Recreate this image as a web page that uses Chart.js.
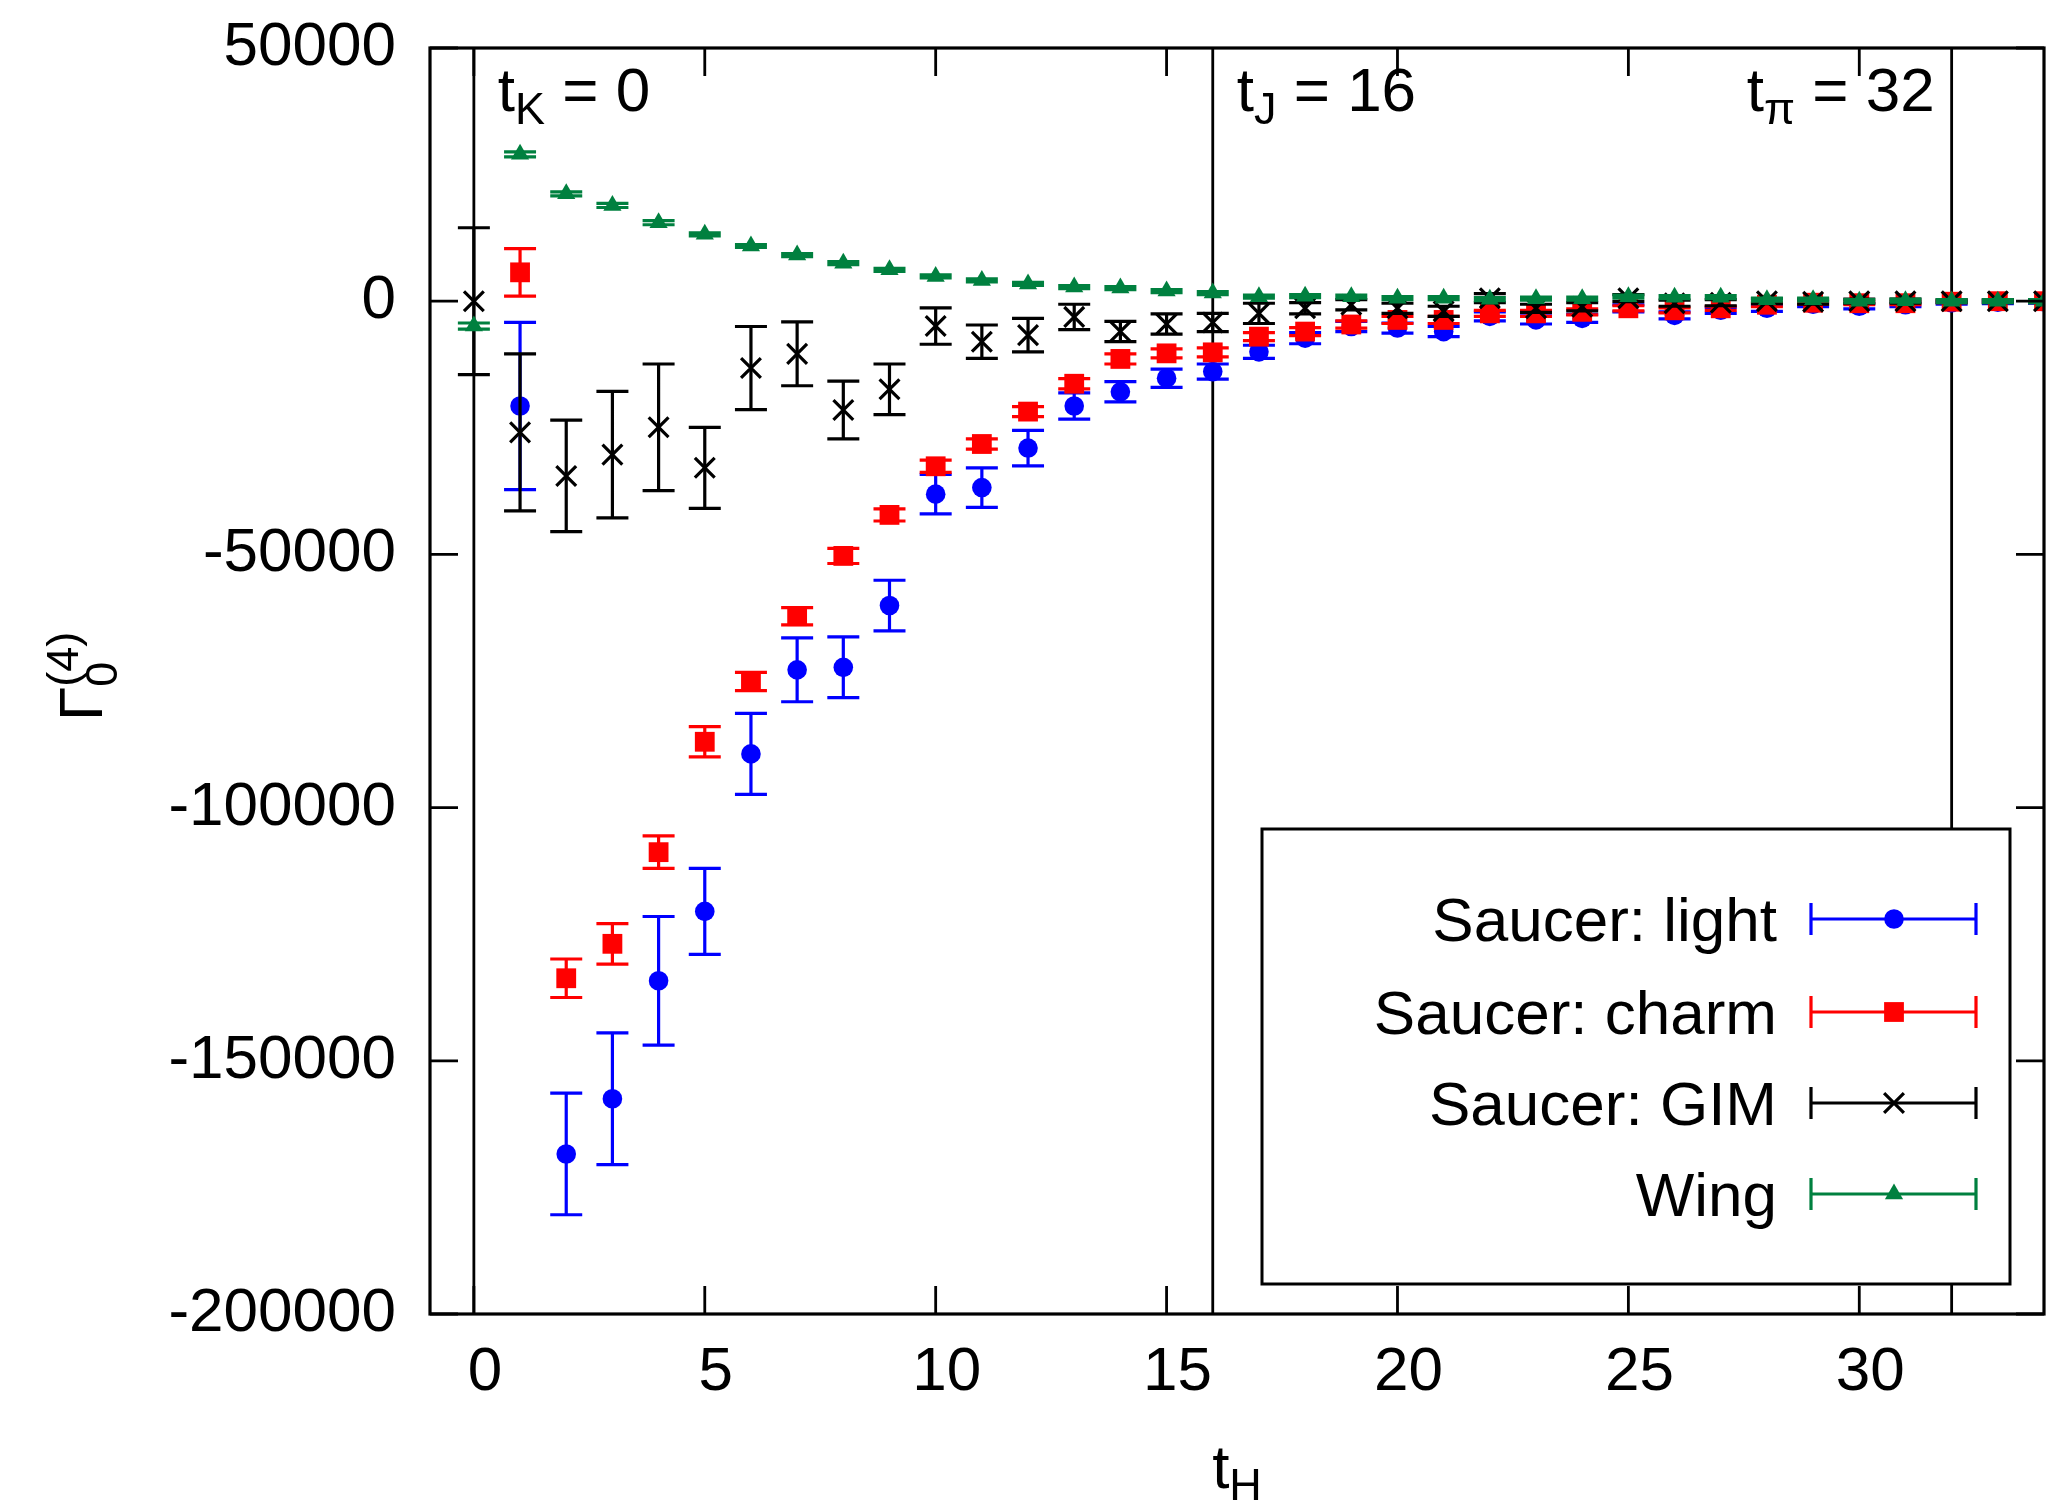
<!DOCTYPE html>
<html>
<head>
<meta charset="utf-8">
<script src="https://cdn.jsdelivr.net/npm/chart.js@4.4.1/dist/chart.umd.min.js"></script>
<style>
  body { margin: 0; background: #fff; }
  canvas { display: block; }
</style>
</head>
<body>
<canvas id="myChart" width="2054" height="1506"></canvas>
<script>
// t_H values (insertion time)
const tH = [0, 1, 2, 3, 4, 5, 6, 7, 8, 9, 10, 11, 12, 13, 14, 15, 16, 17, 18, 19, 20,
  21, 22, 23, 24, 25, 26, 27, 28, 29, 30, 31, 32, 33, 34];

// Saucer: light
const light = [null, -20700, -168400, -157500, -134200, -120500, -89400, -72800, -72300, -60100,
  -38100, -36800, -29000, -20700, -17900, -15200, -13900, -10000, -7300, -5000,
  -5300, -6000, -3000, -3700, -3400, -1400, -2800, -1800, -1400, -600,
  -1000, -700, -300, -200, -100];
const lightErr = [null, 16500, 12000, 13000, 12700, 8500, 8000, 6300, 6000, 5000,
  3900, 3900, 3500, 2600, 2000, 1800, 1500, 1300, 1100, 1000,
  1000, 1000, 900, 800, 800, 700, 700, 600, 600, 500,
  500, 400, 300, 300, 300];

// Saucer: charm
const charm = [null, 5700, -133700, -126900, -108800, -87000, -75100, -62200, -50300, -42200,
  -32600, -28200, -21800, -16300, -11400, -10300, -10100, -7000, -6000, -4600,
  -3700, -3700, -2400, -2400, -2100, -1400, -1800, -1400, -700, -300,
  -400, -400, -100, 0, 0];
const charmErr = [null, 4700, 3800, 4000, 3200, 3000, 1800, 1700, 1500, 1200,
  1200, 1000, 1000, 1000, 1000, 900, 900, 800, 800, 700,
  700, 700, 600, 600, 600, 500, 500, 400, 400, 300,
  300, 300, 200, 200, 200];

// Saucer: GIM
const gim = [0, -25900, -34500, -30300, -24900, -32900, -13200, -10400, -21500, -17400,
  -4900, -8000, -6700, -3100, -6000, -4500, -4200, -2400, -1400, -700,
  -1400, -2000, 600, -1400, -1100, 600, -400, -300, 0, -100,
  0, 0, 0, 0, 0];
const gimErr = [14500, 15500, 11000, 12500, 12500, 8000, 8200, 6300, 5700, 5000,
  3600, 3300, 3300, 2500, 2000, 2000, 1800, 2000, 1100, 1000,
  1000, 1000, 900, 800, 800, 700, 600, 600, 500, 500,
  400, 400, 300, 300, 300];

// Wing
const wing = [-4900, 29000, 21200, 18900, 15500, 13200, 10900, 9100, 7500, 6200,
  4900, 4100, 3400, 2800, 2600, 2000, 1600, 900, 1000, 900,
  600, 600, 400, 500, 500, 900, 800, 800, 300, 300,
  0, 100, 0, 0, 0];
const wingErr = [600, 500, 400, 400, 400, 300, 300, 300, 300, 300,
  300, 300, 300, 300, 300, 300, 300, 300, 300, 300,
  300, 300, 300, 300, 300, 300, 300, 300, 300, 300,
  300, 300, 300, 300, 300];

const seriesNames = ["Saucer: light", "Saucer: charm", "Saucer: GIM", "Wing"];
const xTicks = [0, 5, 10, 15, 20, 25, 30];
const yTicks = [-200000, -150000, -100000, -50000, 0, 50000];
const sourceLines = [0, 16, 32];
const sourceLabels = [["t", "K", " = 0"], ["t", "J", " = 16"], ["t", "π", " = 32"]];

const FONT = "'Liberation Sans', Arial, sans-serif";
Chart.defaults.font.family = FONT;
Chart.defaults.color = "#000";

const makePoints = (vals, errs) =>
  tH.map((t, i) => ({ x: t, y: vals[i], err: errs[i] })).filter(p => p.y !== null);

// text with a sub/superscript: parts = [[text, size, dy], ...]
const richText = (ctx, x, y, parts, align) => {
  let total = 0;
  parts.forEach(p => { ctx.font = p[1] + "px " + FONT; total += ctx.measureText(p[0]).width; });
  let cx = align === "right" ? x - total : align === "center" ? x - total / 2 : x;
  parts.forEach(p => {
    ctx.font = p[1] + "px " + FONT;
    ctx.fillText(p[0], cx, y + p[2]);
    cx += ctx.measureText(p[0]).width;
  });
};

const errorBars = {
  id: "errorBars",
  beforeDatasetDraw(chart, args) {
    const ds = chart.data.datasets[args.index];
    const xs = chart.scales.x, ys = chart.scales.y;
    const ctx = chart.ctx, area = chart.chartArea;
    ctx.save();
    ctx.beginPath();
    ctx.rect(area.left, area.top, area.width, area.height);
    ctx.clip();
    ctx.strokeStyle = ds.borderColor;
    ctx.lineWidth = 3.2;
    ctx.beginPath();
    ds.data.forEach(p => {
      const px = xs.getPixelForValue(p.x);
      const y1 = ys.getPixelForValue(p.y + p.err);
      const y2 = ys.getPixelForValue(p.y - p.err);
      ctx.moveTo(px, y1); ctx.lineTo(px, y2);
      ctx.moveTo(px - 16, y1); ctx.lineTo(px + 16, y1);
      ctx.moveTo(px - 16, y2); ctx.lineTo(px + 16, y2);
    });
    ctx.stroke();
    ctx.restore();
  }
};

const frame = {
  id: "frame",
  beforeDatasetsDraw(chart) {
    const ctx = chart.ctx, area = chart.chartArea, xs = chart.scales.x;
    ctx.save();
    ctx.strokeStyle = "#000";
    ctx.lineWidth = 2.8;
    ctx.beginPath();
    sourceLines.forEach(v => {
      const px = xs.getPixelForValue(v);
      ctx.moveTo(px, area.top); ctx.lineTo(px, area.bottom);
    });
    ctx.stroke();
    ctx.restore();
  },
  afterDatasetsDraw(chart) {
    const ctx = chart.ctx, area = chart.chartArea;
    const xs = chart.scales.x, ys = chart.scales.y;
    ctx.save();
    ctx.strokeStyle = "#000";
    ctx.lineWidth = 2.8;
    ctx.beginPath();
    xTicks.forEach(v => {
      const px = xs.getPixelForValue(v);
      ctx.moveTo(px, area.bottom); ctx.lineTo(px, area.bottom - 28);
      ctx.moveTo(px, area.top); ctx.lineTo(px, area.top + 28);
    });
    yTicks.forEach(v => {
      const py = ys.getPixelForValue(v);
      ctx.moveTo(area.left, py); ctx.lineTo(area.left + 28, py);
      ctx.moveTo(area.right, py); ctx.lineTo(area.right - 28, py);
    });
    ctx.stroke();
    ctx.lineWidth = 3.2;
    ctx.strokeRect(area.left, area.top, area.width, area.height);

    // t_K, t_J, t_pi labels
    ctx.fillStyle = "#000";
    ctx.textBaseline = "alphabetic";
    sourceLabels.forEach((lab, i) => {
      const px = xs.getPixelForValue(sourceLines[i]);
      const parts = [[lab[0], 62, 0], [lab[1], 45, 13], [lab[2], 62, 0]];
      if (i === 2) richText(ctx, px - 17, area.top + 63, parts, "right");
      else richText(ctx, px + 24, area.top + 63, parts, "left");
    });

    // axis titles
    richText(ctx, (area.left + area.right) / 2, 1488, [["t", 62, 0], ["H", 45, 12]], "center");
    ctx.save();
    ctx.translate(102, (area.top + area.bottom) / 2);
    ctx.rotate(-Math.PI / 2);
    ctx.font = "62px " + FONT;
    const gw = ctx.measureText("Γ").width;
    ctx.fillText("Γ", -40, 0);
    ctx.font = "45px " + FONT;
    ctx.fillText("0", -40 + gw, 15);
    ctx.fillText("(4)", -40 + gw, -24);
    ctx.restore();
    ctx.restore();
  },
  afterDraw(chart) {
    const ctx = chart.ctx;
    ctx.save();
    ctx.fillStyle = "#fff";
    ctx.fillRect(1262, 829, 748, 455);
    ctx.strokeStyle = "#000";
    ctx.lineWidth = 3;
    ctx.strokeRect(1262, 829, 748, 455);
    const rows = [919, 1012, 1103, 1194];
    chart.data.datasets.forEach((ds, i) => {
      const y = rows[i];
      ctx.fillStyle = "#000";
      ctx.font = "62px " + FONT;
      ctx.textAlign = "right";
      ctx.textBaseline = "alphabetic";
      ctx.fillText(ds.label, 1777, y + 22);
      ctx.strokeStyle = ds.borderColor;
      ctx.lineWidth = 3.2;
      ctx.beginPath();
      ctx.moveTo(1811, y); ctx.lineTo(1976, y);
      ctx.moveTo(1811, y - 16); ctx.lineTo(1811, y + 16);
      ctx.moveTo(1976, y - 16); ctx.lineTo(1976, y + 16);
      ctx.stroke();
      ctx.fillStyle = ds.pointBackgroundColor;
      ctx.strokeStyle = ds.pointBorderColor;
      ctx.lineWidth = ds.pointBorderWidth;
      Chart.helpers.drawPoint(ctx, {
        pointStyle: ds.pointStyle, radius: ds.pointRadius,
        borderWidth: ds.pointBorderWidth, rotation: 0
      }, 1894, y);
    });
    ctx.restore();
  }
};

const ctx = document.getElementById("myChart").getContext("2d");
const myChart = new Chart(ctx, {
  type: "scatter",
  data: {
    datasets: [
      {
        label: seriesNames[0], data: makePoints(light, lightErr), order: 4, clip: 0,
        pointStyle: "circle", pointRadius: 9.8, pointBorderWidth: 0,
        borderColor: "#0000ff", pointBackgroundColor: "#0000ff", pointBorderColor: "#0000ff"
      },
      {
        label: seriesNames[1], data: makePoints(charm, charmErr), order: 3, clip: 0,
        pointStyle: "rect", pointRadius: 14, pointBorderWidth: 0,
        borderColor: "#ff0000", pointBackgroundColor: "#ff0000", pointBorderColor: "#ff0000"
      },
      {
        label: seriesNames[2], data: makePoints(gim, gimErr), order: 2, clip: 0,
        pointStyle: "crossRot", pointRadius: 14, pointBorderWidth: 3.2,
        borderColor: "#000000", pointBackgroundColor: "#000000", pointBorderColor: "#000000"
      },
      {
        label: seriesNames[3], data: makePoints(wing, wingErr), order: 1, clip: 0,
        pointStyle: "triangle", pointRadius: 10.5, pointBorderWidth: 0,
        borderColor: "#00803f", pointBackgroundColor: "#00803f", pointBorderColor: "#00803f"
      }
    ]
  },
  options: {
    responsive: false,
    animation: false,
    devicePixelRatio: 1,
    layout: { autoPadding: false, padding: { top: 48, right: 10, left: 0, bottom: 0 } },
    plugins: { legend: { display: false }, tooltip: { enabled: false } },
    scales: {
      x: {
        type: "linear", min: -0.95, max: 34,
        afterBuildTicks: (s) => { s.ticks = xTicks.map(v => ({ value: v })); },
        afterFit: (s) => { s.height = 192; s.paddingLeft = 0; s.paddingRight = 0; },
        grid: { display: false, drawTicks: false },
        border: { display: false },
        ticks: {
          font: { size: 62 }, color: "#000", padding: 22, labelOffset: 11,
          maxRotation: 0, autoSkip: false, callback: (v) => String(v)
        }
      },
      y: {
        type: "linear", min: -200000, max: 50000,
        afterBuildTicks: (s) => { s.ticks = yTicks.map(v => ({ value: v })); },
        afterFit: (s) => { s.width = 430; s.paddingTop = 0; s.paddingBottom = 0; },
        grid: { display: false, drawTicks: false },
        border: { display: false },
        ticks: { font: { size: 62 }, color: "#000", padding: 34, autoSkip: false, callback: (v) => String(v) }
      }
    }
  },
  plugins: [errorBars, frame]
});
</script>
</body>
</html>
